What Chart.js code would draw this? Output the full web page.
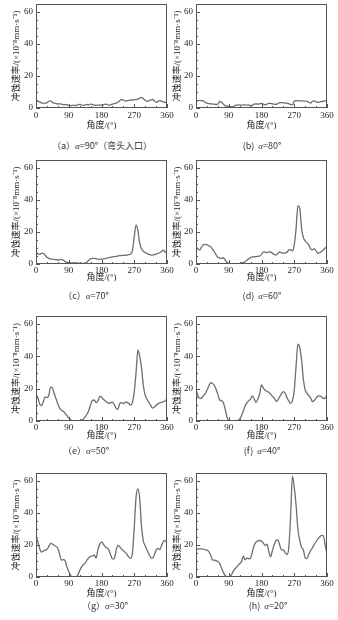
<!DOCTYPE html>
<html><head><meta charset="utf-8">
<script src="https://cdn.jsdelivr.net/npm/chart.js@4.4.1/dist/chart.umd.min.js"></script>
<style>
html,body{margin:0;padding:0;background:#fff;width:338px;height:620px;overflow:hidden;position:relative;}
canvas{position:absolute;}
.cap{position:absolute;font-family:"Noto Sans CJK SC","Liberation Sans",sans-serif;font-size:9px;color:#333;white-space:nowrap;transform:translate(-50%,-50%);line-height:1;}
.cap i{font-family:"Liberation Serif",serif;}
</style></head><body>
<script>
// ---------- data ----------
const ANGLES = [0,5,10,15,20,25,30,35,40,45,50,55,60,65,70,75,80,85,90,95,100,105,110,115,120,125,130,135,140,145,150,155,160,165,170,175,180,185,190,195,200,205,210,215,220,225,230,235,240,245,250,255,260,265,270,275,280,285,290,295,300,305,310,315,320,325,330,335,340,345,350,355,360];
const X_TICKS = [0,90,180,270,360];
const Y_TICKS = [0,20,40,60];
const Y_MAX = 65;
const X_TITLE = '角度/(°)';
const Y_TITLE = '冲蚀速率/(×10⁻⁸mm·s⁻¹)';

const RATE_A90 = [4.5,4.2,3.8,3.2,3.0,3.0,3.2,4.2,4.5,3.5,3.0,2.8,2.5,2.6,2.4,2.0,2.2,2.0,1.6,1.5,1.6,1.8,1.5,2.0,2.3,2.0,1.7,1.9,2.2,2.0,2.4,2.2,1.8,1.7,1.8,1.9,1.8,2.0,2.4,2.2,1.8,2.0,2.4,2.8,3.0,3.6,4.5,5.3,5.0,4.3,4.6,4.8,4.9,5.0,5.2,5.4,5.5,6.2,6.6,5.8,4.8,4.2,4.5,5.0,5.3,4.5,3.6,4.0,4.8,4.2,3.8,3.5,3.2];
const RATE_A80 = [4.2,4.6,4.8,4.6,4.4,3.6,3.0,2.8,2.6,2.5,2.4,2.2,2.4,4.2,3.8,2.4,1.5,1.2,1.0,0.9,0.8,1.2,1.8,1.9,1.9,1.8,1.9,1.9,1.8,1.9,1.4,1.8,2.4,2.6,2.4,2.6,2.8,2.4,2.0,2.4,2.9,2.9,2.6,2.4,2.3,2.8,3.3,3.4,3.2,3.1,3.1,2.7,2.2,1.9,4.2,4.6,4.5,4.4,4.4,4.4,4.3,4.2,3.6,3.1,4.2,4.4,3.8,3.5,3.8,4.0,4.2,4.5,4.8];
const RATE_A70 = [7.2,6.5,6.0,6.6,6.7,5.5,4.2,3.5,3.2,3.0,2.9,2.7,2.5,2.7,2.9,2.4,1.5,1.0,0.8,0.7,0.7,0.8,0.7,0.6,0.6,0.4,0.4,0.5,1.2,2.4,3.2,3.5,3.5,3.4,3.1,2.9,3.0,3.2,3.3,3.6,4.0,4.2,4.4,4.6,4.8,5.0,5.2,5.3,5.4,5.4,5.6,5.8,6.2,8.5,17,24.5,21,13,9.5,8,7.2,6.6,6.0,5.7,5.6,5.8,6.2,6.6,7.0,7.8,8.6,7.5,6.6];
const RATE_A60 = [10.5,9.5,8.8,10.5,12.0,12.3,12.0,11.5,10.8,9.5,7.8,5.8,4.2,3.7,3.5,3.9,2.5,1.0,0.4,0.1,0.0,0.0,0.1,0.2,0.4,0.7,1.0,1.4,2.4,3.2,4.0,4.4,4.5,4.6,4.8,5.0,6.0,7.6,7.4,7.1,7.6,7.5,6.8,6.0,5.6,6.6,7.5,7.0,6.7,6.9,7.3,8.8,9.0,8.2,12,22,36.5,35,22.5,16.5,14.5,13.2,12,9.5,8.8,9.6,8.2,6.7,7.2,7.8,8.8,10.0,11.0];
const RATE_A50 = [16.4,14.5,10.5,9.5,11.8,14.9,14.5,15.8,21.0,20.5,17.0,13.9,10.5,8.0,6.5,6.0,4.7,3.3,1.9,0.8,0.2,0.0,0.0,0.0,0.1,0.4,1.2,2.5,4.2,6.5,10.0,12.8,13.0,11.4,12.2,15.2,14.8,13.5,12.5,11.6,10.8,11.4,11.6,10.2,8.0,7.2,10.8,11.4,10.8,11.5,11.6,10.8,9.8,11.5,18,30,44,40,33,22,16,13.5,11.5,9.8,8.0,8.6,9.7,10.6,11.3,11.6,11.8,12.5,13.5];
const RATE_A40 = [19.2,16.0,14.0,14.2,15.5,16.8,19.0,21.5,23.8,23.3,22.0,19.8,16.5,13.0,12.6,11.4,7.5,2.5,0.3,0.0,0.0,0.0,0.1,0.4,1.2,3.2,6.2,9.3,11.2,12.6,13.6,15.6,13.6,11.5,13.6,17.0,22.4,20.5,19.0,18.4,17.8,16.6,15.3,14.2,12.2,13.0,15.0,16.9,18.2,17.2,14.5,12.3,10.9,12.5,19,34,47.5,45.5,38,26,19.2,17.2,15.6,14.4,12.0,12.8,14.2,15.4,15.6,15.0,13.8,14.2,16.0];
const RATE_A30 = [25.0,22.2,17.8,15.6,16.2,16.8,17.2,19.0,21.0,20.6,19.8,19.1,18.0,14.2,10.5,10.8,10.2,6.2,3.5,1.0,0.1,0.0,0.1,1.2,4.0,6.2,7.6,8.7,10.5,12.0,12.9,13.2,13.8,11.8,17.0,20.4,22.0,20.6,19.0,18.2,17.0,13.9,11.3,11.5,16.5,19.8,18.9,17.4,16.4,15.4,14.1,12.4,11.6,15.0,31,50,55,49,31.5,22.5,19.5,17.0,14.4,12.3,11.6,13.8,16.8,17.8,17.2,19.5,22.2,22.9,20.5];
const RATE_A20 = [17.0,17.4,17.6,17.6,17.4,17.0,16.8,16.0,13.9,10.8,10.5,10.2,9.6,8.4,5.6,2.9,1.1,0.1,0.0,0.6,2.5,4.6,5.8,7.0,8.3,9.6,13.0,10.8,11.8,11.4,11.8,16.0,19.8,21.8,22.6,22.8,22.4,21.2,19.8,20.6,16.0,12.6,16.5,20.3,22.8,23.2,20.0,17.0,17.0,15.2,14.0,18.5,38,63,56,45,30,23,18.6,17.0,12.0,11.5,14.2,16.4,18.3,20.3,22.2,23.8,25.0,26.0,25.8,20.0,14.0];

const SERIES = [RATE_A90, RATE_A80, RATE_A70, RATE_A60, RATE_A50, RATE_A40, RATE_A30, RATE_A20];
const CAPTIONS = [
  '（a）<i>α</i>=90°（弯头入口）', '(b)&nbsp; <i>α</i>=80°',
  '（c）<i>α</i>=70°', '(d)&nbsp; <i>α</i>=60°',
  '（e）<i>α</i>=50°', '(f)&nbsp; <i>α</i>=40°',
  '（g）<i>α</i>=30°', '(h)&nbsp; <i>α</i>=20°'
];

// ---------- layout (positions / styles) ----------
const COLS = [
  {left:0,   width:177, axisW:36, areaRight:167, titlePad:11.6},
  {left:169, width:169, axisW:27, areaRight:158, titlePad:3.6}
];
const ROWS = [
  {top:4,   bottom:108, lab:8,   tit:18},
  {top:160, bottom:264, lab:6.5, tit:14},
  {top:316, bottom:421, lab:7,   tit:15},
  {top:473, bottom:577, lab:6.5, tit:17}
];
const CAP_POS = [[102,146],[262,146],[86,296],[262,296],[86,451],[262,451],[105,606],[268,606]];
const PAD_TOP = 4, X_AXIS_H = 26;
const TICK_FONT = {family:'"Liberation Serif", serif', size:9, lineHeight:1.2};
const TITLE_FONT = {family:'"Liberation Serif", "Noto Sans CJK SC", serif', size:9, lineHeight:1.2};
const TEXT_COLOR = '#252525';

const framePlugin = {
  id:'frame',
  afterDraw(chart){
    const {ctx, chartArea:{left,top,right,bottom}, scales:{x,y}} = chart;
    ctx.save();
    ctx.strokeStyle = '#555'; ctx.lineWidth = 1;
    ctx.strokeRect(left+0.5, top+0.5, right-left-1, bottom-top-1);
    ctx.beginPath();
    for (let v = 0; v <= 360; v += 30) {
      const px = Math.round(x.getPixelForValue(v)) + 0.5;
      const len = X_TICKS.includes(v) ? 4 : 2;
      ctx.moveTo(px, bottom); ctx.lineTo(px, bottom - len);
    }
    for (let v = 0; v <= 60; v += 5) {
      const py = Math.round(y.getPixelForValue(v)) + 0.5;
      const len = Y_TICKS.includes(v) ? 4 : 2;
      ctx.moveTo(left, py); ctx.lineTo(left + len, py);
    }
    ctx.stroke();
    ctx.restore();
  }
};

SERIES.forEach((vals, i) => {
  const col = COLS[i % 2], row = ROWS[Math.floor(i / 2)];
  const cv = document.createElement('canvas');
  const h = (row.bottom - row.top) + PAD_TOP + X_AXIS_H;
  cv.width = col.width; cv.height = h;
  cv.style.left = col.left + 'px'; cv.style.top = (row.top - PAD_TOP) + 'px';
  cv.style.width = col.width + 'px'; cv.style.height = h + 'px';
  document.body.appendChild(cv);

  new Chart(cv, {
    type:'line',
    data:{datasets:[{
      data: ANGLES.map((a, k) => ({x:a, y:vals[k]})),
      borderColor:'#6e6e6e', borderWidth:1.3, pointRadius:0,
      cubicInterpolationMode:'monotone', fill:false
    }]},
    options:{
      responsive:false, animation:false, devicePixelRatio:1,
      layout:{padding:{left:0, top:PAD_TOP, right:col.width - col.areaRight, bottom:0}},
      plugins:{legend:{display:false}, tooltip:{enabled:false}},
      scales:{
        x:{
          type:'linear', min:0, max:360,
          grid:{display:false, drawTicks:false}, border:{display:false},
          afterBuildTicks:s => { s.ticks = X_TICKS.map(v => ({value:v})); },
          afterFit:s => { s.height = X_AXIS_H; s.paddingLeft = 0; s.paddingRight = 0; s.paddingTop = 0; s.paddingBottom = 0; },
          ticks:{font:TICK_FONT, color:TEXT_COLOR, padding:row.lab - 5.4, maxRotation:0, autoSkip:false},
          title:{display:true, text:X_TITLE, font:TITLE_FONT, color:TEXT_COLOR,
                 padding:{top:0, bottom:X_AXIS_H - 5.4 - row.tit}}
        },
        y:{
          min:0, max:Y_MAX,
          grid:{display:false, drawTicks:false}, border:{display:false},
          afterBuildTicks:s => { s.ticks = Y_TICKS.map(v => ({value:v})); },
          afterFit:s => { s.width = col.axisW; s.paddingTop = 0; s.paddingBottom = 0; s.paddingLeft = 0; s.paddingRight = 0; },
          ticks:{font:TICK_FONT, color:TEXT_COLOR, padding:3},
          title:{display:true, text:Y_TITLE, font:TITLE_FONT, color:TEXT_COLOR,
                 padding:{top:col.titlePad, bottom:0}}
        }
      }
    },
    plugins:[framePlugin]
  });

  const cap = document.createElement('div');
  cap.className = 'cap';
  cap.innerHTML = CAPTIONS[i];
  cap.style.left = CAP_POS[i][0] + 'px';
  cap.style.top = CAP_POS[i][1] + 'px';
  document.body.appendChild(cap);
});
</script>
</body></html>
